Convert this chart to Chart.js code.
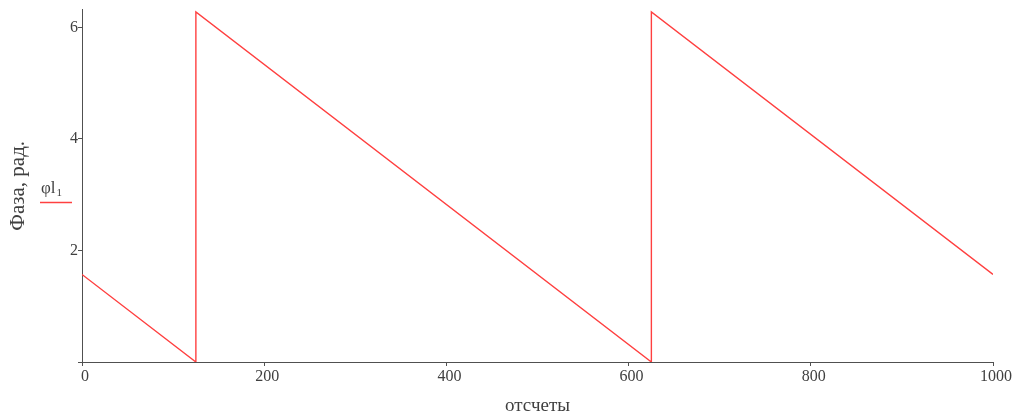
<!DOCTYPE html>
<html>
<head>
<meta charset="utf-8">
<title>Фаза</title>
<script src="https://cdn.jsdelivr.net/npm/chart.js@4/dist/chart.umd.min.js"></script>
<style>
  html, body { margin: 0; padding: 0; background: #ffffff; }
  #wrap { width: 1019px; height: 417px; }
</style>
</head>
<body>
<div id="wrap"><canvas id="c" width="1019" height="417"></canvas></div>
<script>
// Phase of the signal (rad) against sample number, wrapped to [0, 2π)
const samples = [0, 125, 125, 625, 625, 1000];
const phase   = [1.57, 0, 6.28, 0, 6.28, 1.57];

const xTicks = [0, 200, 400, 600, 800, 1000];
const yTicks = [0, 2, 4, 6];

const seriesName = 'φl';
const seriesIndex = '1';
const xTitle = 'отсчеты';
const yTitle = 'Фаза, рад.';

const lineColor = 'rgb(255,64,64)';
const axisColor = '#505050';
const textColor = '#404040';
const serif = '"Liberation Serif", "DejaVu Serif", serif';

// Legend drawn as "φl" with a subscript index and a short line sample beneath
const sideLegend = {
  id: 'sideLegend',
  afterDraw(chart) {
    const ctx = chart.ctx;
    const ds = chart.data.datasets[0];
    ctx.save();
    ctx.fillStyle = textColor;
    ctx.textBaseline = 'alphabetic';
    ctx.textAlign = 'left';
    ctx.font = '17px ' + serif;
    ctx.fillText(seriesName, 41, 193);
    const w = ctx.measureText(seriesName).width;
    ctx.font = '11px ' + serif;
    ctx.fillText(seriesIndex, 41 + w + 1, 196);
    ctx.strokeStyle = ds.borderColor;
    ctx.lineWidth = 1.5;
    ctx.beginPath();
    ctx.moveTo(40, 202.5);
    ctx.lineTo(72, 202.5);
    ctx.stroke();
    ctx.restore();
  }
};

new Chart(document.getElementById('c'), {
  type: 'line',
  data: {
    datasets: [{
      label: seriesName + seriesIndex,
      data: samples.map((s, i) => ({ x: s, y: phase[i] })),
      borderColor: lineColor,
      borderWidth: 1.4,
      pointRadius: 0,
      tension: 0,
      fill: false
    }]
  },
  options: {
    responsive: false,
    animation: false,
    devicePixelRatio: 1,
    layout: { padding: { top: 8, right: 26, bottom: 0, left: 0 } },
    plugins: {
      legend: { display: false },
      tooltip: { enabled: false }
    },
    scales: {
      x: {
        type: 'linear',
        min: 0,
        max: 1000,
        afterFit(scale) { scale.height = 55; },
        afterBuildTicks(scale) { scale.ticks = xTicks.map(v => ({ value: v })); },
        ticks: {
          color: textColor,
          font: { family: serif, size: 16 },
          padding: 1,
          labelOffset: 3,
          maxRotation: 0,
          autoSkip: false,
          callback: v => String(v)
        },
        grid: {
          display: true,
          drawOnChartArea: false,
          drawTicks: true,
          tickLength: 4,
          color: axisColor
        },
        border: { display: true, color: axisColor, width: 1 },
        title: {
          display: true,
          text: xTitle,
          color: textColor,
          font: { family: serif, size: 19 },
          padding: { top: 0, bottom: 0 }
        }
      },
      y: {
        type: 'linear',
        min: 0,
        max: 6.32,
        afterFit(scale) { scale.width = 82; },
        afterBuildTicks(scale) { scale.ticks = yTicks.map(v => ({ value: v })); },
        ticks: {
          color: textColor,
          font: { family: serif, size: 16 },
          padding: 0,
          autoSkip: false,
          callback: v => (v === 0 ? '' : String(v))
        },
        grid: {
          display: true,
          drawOnChartArea: false,
          drawTicks: true,
          tickLength: 4,
          color: axisColor
        },
        border: { display: true, color: axisColor, width: 1 },
        title: {
          display: true,
          text: yTitle,
          color: textColor,
          font: { family: serif, size: 21 },
          padding: { top: 6, bottom: 0 }
        }
      }
    }
  },
  plugins: [sideLegend]
});
</script>
</body>
</html>
